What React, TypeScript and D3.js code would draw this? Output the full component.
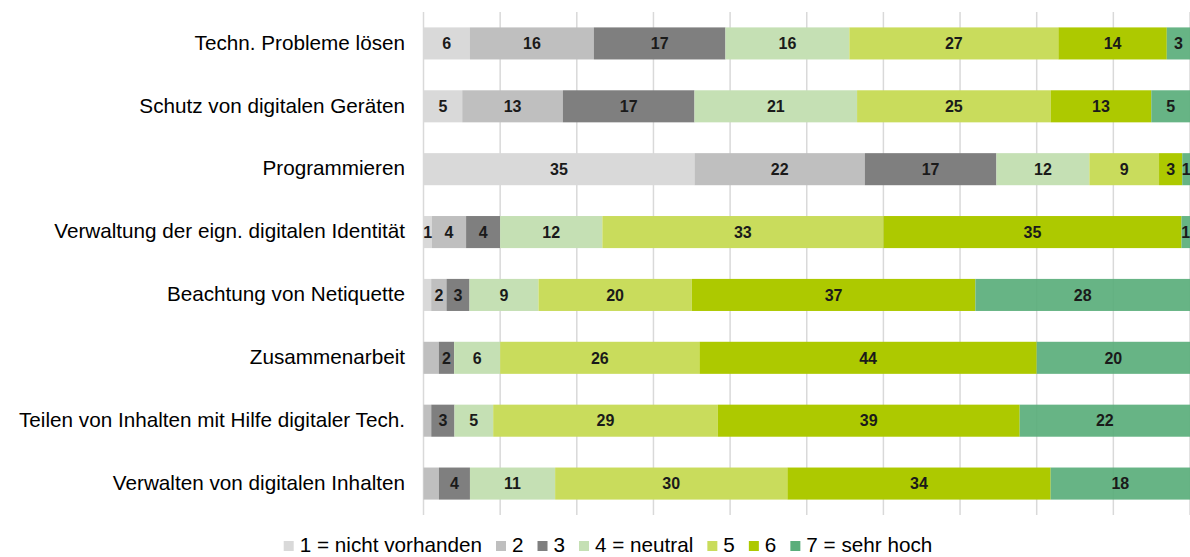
import React from 'react';
import * as d3 from 'd3';

const categories = [
  'Techn. Probleme lösen',
  'Schutz von digitalen Geräten',
  'Programmieren',
  'Verwaltung der eign. digitalen Identität',
  'Beachtung von Netiquette',
  'Zusammenarbeit',
  'Teilen von Inhalten mit Hilfe digitaler Tech.',
  'Verwalten von digitalen Inhalten',
];

const seriesNames = ['1 = nicht vorhanden', '2', '3', '4 = neutral', '5', '6', '7 = sehr hoch'];

const s1 = [6, 5, 35, 1, 1, 0, 0, 0];
const s2 = [16, 13, 22, 4, 2, 2, 1, 2];
const s3 = [17, 17, 17, 4, 3, 2, 3, 4];
const s4 = [16, 21, 12, 12, 9, 6, 5, 11];
const s5 = [27, 25, 9, 33, 20, 26, 29, 30];
const s6 = [14, 13, 3, 35, 37, 44, 39, 34];
const s7 = [3, 5, 1, 1, 28, 20, 22, 18];

// [row, series] pairs whose label is not shown in the original
const hiddenLabels = [[4, 0], [5, 1], [6, 1], [7, 1]];

const colors = ['#d9d9d9', '#bfbfbf', '#7f7f7f', '#c5e0b4', '#c9dc5c', '#adc900', '#5aae7b'];

const W = 1190;
const H = 557;
const FONT = '"Liberation Sans", Arial, sans-serif';
const LABEL_SIZE = 20.7;

const measure = (txt: string, font: string) => {
  const c = document.createElement('canvas').getContext('2d');
  if (!c) return txt.length * 10;
  c.font = font;
  return c.measureText(txt).width;
};

const App = () => {
  const allSeries = [s1, s2, s3, s4, s5, s6, s7];
  const keys = seriesNames.map((_, i) => `s${i}`);
  const table = categories.map((cat, r) => {
    const row: any = { cat };
    allSeries.forEach((s, i) => (row[keys[i]] = s[r]));
    return row;
  });

  const stack = d3.stack<any>().keys(keys).offset(d3.stackOffsetExpand);
  const layers = stack(table);

  const x = d3.scaleLinear().domain([0, 1]).range([423.5, 1190]);
  const y = d3.scaleBand<string>()
    .domain(categories)
    .range([12, 515])
    .paddingInner(0.49)
    .paddingOuter(0.245);

  const ticks = d3.range(0, 1.0001, 0.1);
  const isHidden = (r: number, s: number) => hiddenLabels.some(([a, b]) => a === r && b === s);

  // legend layout
  const legendFont = `${LABEL_SIZE}px ${FONT}`;
  const sq = 10;
  const gapSqText = 6;
  const gapItems = 14;
  const widths = seriesNames.map(n => sq + gapSqText + measure(n, legendFont));
  const totalW = d3.sum(widths) + gapItems * (widths.length - 1);
  let lx = 608 - totalW / 2;
  const legendPos = widths.map(w => {
    const p = lx;
    lx += w + gapItems;
    return p;
  });
  const legendY = 545;

  return (
    <svg width={W} height={H} style={{ position: 'absolute', left: 0, top: 0 }}>
      <rect width={W} height={H} fill="#fff" />
      <g>
        {ticks.map((t, i) => (
          <line key={i} x1={x(t)} x2={x(t)} y1={12} y2={515} stroke="#d9d9d9" strokeWidth={1.5} />
        ))}
      </g>
      {layers.map((layer, si) => (
        <g key={si} fill={colors[si]} fillOpacity={si === 6 ? 0.92 : 1}>
          {layer.map((d, r) => (
            <rect
              key={r}
              x={x(d[0])}
              y={y(categories[r])}
              width={Math.max(0, x(d[1]) - x(d[0]))}
              height={y.bandwidth()}
            />
          ))}
        </g>
      ))}
      {layers.map((layer, si) => (
        <g key={'l' + si} fontFamily={FONT} fontWeight="bold" fontSize={16} fill="#1a1a1a" textAnchor="middle">
          {layer.map((d, r) => {
            const v = allSeries[si][r];
            if (v <= 0 || isHidden(r, si)) return null;
            return (
              <text key={r} x={(x(d[0]) + x(d[1])) / 2} y={(y(categories[r]) as number) + y.bandwidth() / 2} dy="0.36em">
                {v}
              </text>
            );
          })}
        </g>
      ))}
      <g fontFamily={FONT} fontSize={LABEL_SIZE} fill="#000" textAnchor="end">
        {categories.map(c => (
          <text key={c} x={405} y={(y(c) as number) + y.bandwidth() / 2} dy="0.3em">
            {c}
          </text>
        ))}
      </g>
      <g fontFamily={FONT} fontSize={LABEL_SIZE} fill="#000">
        {seriesNames.map((n, i) => (
          <g key={n} transform={`translate(${legendPos[i]},${legendY})`}>
            <rect x={0} y={-sq / 2 + 1} width={sq} height={sq} fill={colors[i]} />
            <text x={sq + gapSqText} y={0} dy="0.36em">{n}</text>
          </g>
        ))}
      </g>
    </svg>
  );
};

export default App;
